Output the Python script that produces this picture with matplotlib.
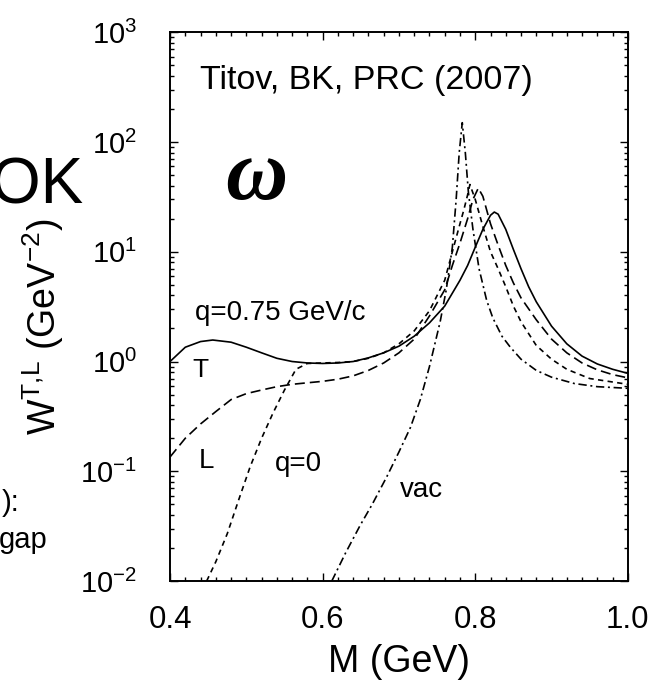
import numpy as np
import matplotlib
matplotlib.use("Agg")
import matplotlib.pyplot as plt
from matplotlib.ticker import LogLocator, MultipleLocator, NullFormatter

plt.rcParams['font.family'] = ['Liberation Sans', 'DejaVu Sans']
plt.rcParams['mathtext.fontset'] = 'custom'
plt.rcParams['mathtext.rm'] = 'Liberation Sans'
plt.rcParams['mathtext.it'] = 'Liberation Sans:italic'
plt.rcParams['mathtext.default'] = 'regular'

# transverse, q = 0.75 GeV/c (solid)
m_T = [0.40, 0.42, 0.44, 0.456, 0.48, 0.50, 0.52, 0.54, 0.56, 0.58, 0.60, 0.62,
       0.64, 0.66, 0.68, 0.70, 0.72, 0.74, 0.76, 0.78, 0.79, 0.80, 0.81, 0.82,
       0.825, 0.83, 0.84, 0.85, 0.86, 0.87, 0.88, 0.90, 0.92, 0.94, 0.96, 0.98, 1.00]
w_T = [1.00, 1.35, 1.52, 1.57, 1.50, 1.35, 1.20, 1.07, 1.00, 0.97, 0.96, 0.97,
       1.00, 1.08, 1.20, 1.38, 1.70, 2.25, 3.2, 5.5, 7.5, 11, 16, 21.5,
       23, 22, 16, 10.5, 7.0, 4.8, 3.5, 2.1, 1.45, 1.12, 0.95, 0.85, 0.78]

# longitudinal, q = 0.75 GeV/c (long dashes)
m_L = [0.40, 0.42, 0.44, 0.46, 0.48, 0.50, 0.52, 0.54, 0.56, 0.58, 0.60, 0.62,
       0.64, 0.66, 0.68, 0.70, 0.72, 0.74, 0.76, 0.77, 0.78, 0.79, 0.797, 0.804,
       0.81, 0.82, 0.83, 0.84, 0.85, 0.86, 0.88, 0.90, 0.92, 0.94, 0.96, 0.98, 1.00]
w_L = [0.135, 0.20, 0.27, 0.35, 0.45, 0.51, 0.55, 0.59, 0.62, 0.64, 0.66, 0.69,
       0.74, 0.83, 0.97, 1.2, 1.6, 2.6, 4.5, 7.5, 12, 20, 30, 38,
       32, 18, 11.5, 7.5, 5.2, 3.8, 2.4, 1.6, 1.2, 0.97, 0.84, 0.76, 0.71]

# q = 0 (short dashes)
m_q0 = [0.448, 0.46, 0.475, 0.49, 0.505, 0.52, 0.535, 0.55, 0.565, 0.58, 0.60, 0.62,
        0.64, 0.66, 0.68, 0.70, 0.72, 0.74, 0.76, 0.77, 0.78, 0.785, 0.79, 0.793,
        0.80, 0.81, 0.82, 0.83, 0.84, 0.85, 0.86, 0.88, 0.90, 0.92, 0.95, 1.00]
w_q0 = [0.010, 0.015, 0.027, 0.055, 0.11, 0.20, 0.34, 0.55, 0.85, 0.96, 0.97, 0.98,
        1.00, 1.07, 1.20, 1.45, 1.9, 2.9, 5.5, 10, 18, 24, 33, 41,
        30, 17, 10, 7.0, 4.8, 3.2, 2.3, 1.4, 1.05, 0.85, 0.70, 0.62]

# vacuum (dash-dot)
m_vac = [0.612, 0.63, 0.649, 0.665, 0.684, 0.70, 0.715, 0.728, 0.74, 0.754, 0.762,
         0.77, 0.775, 0.779, 0.783, 0.787, 0.791, 0.797, 0.805, 0.815, 0.823, 0.835,
         0.846, 0.86, 0.88, 0.90, 0.93, 0.96, 1.00]
w_vac = [0.010, 0.018, 0.032, 0.05, 0.089, 0.15, 0.25, 0.45, 0.9, 2.3, 4.5,
         11, 30, 80, 150, 80, 35, 16, 7.0, 3.6, 2.5, 1.7,
         1.35, 1.05, 0.83, 0.72, 0.63, 0.59, 0.57]

fig = plt.figure(figsize=(6.54, 6.86), dpi=100)
ax = fig.add_axes([0.26, 0.153, 0.70, 0.800])

lw = 1.2
ax.plot(m_T, w_T, color='black', lw=lw, ls='-')
ax.plot(m_L, w_L, color='black', lw=lw, ls=(0, (6, 3)))
ax.plot(m_q0, w_q0, color='black', lw=lw, ls=(0, (3.2, 2.6)))
ax.plot(m_vac, w_vac, color='black', lw=lw, ls=(0, (5, 2.2, 1.2, 2.2)))

ax.set_yscale('log')
ax.set_xlim(0.4, 1.0)
ax.set_ylim(1e-2, 1e3)

ax.xaxis.set_major_locator(MultipleLocator(0.2))
ax.xaxis.set_minor_locator(MultipleLocator(0.02))
ax.xaxis.set_major_formatter(matplotlib.ticker.FormatStrFormatter('%.1f'))
ax.yaxis.set_major_locator(LogLocator(base=10, numticks=10))
ax.yaxis.set_minor_locator(LogLocator(base=10, subs=np.arange(2, 10), numticks=20))
ax.yaxis.set_minor_formatter(NullFormatter())

ax.tick_params(which='both', direction='in', top=True, right=True, width=1.0, color='black')
ax.tick_params(which='major', length=6)
ax.tick_params(which='minor', length=3)
ax.tick_params(axis='x', which='major', labelsize=22.5, pad=17)
ax.tick_params(axis='y', which='major', labelsize=21, pad=24)
for sp in ax.spines.values():
    sp.set_linewidth(1.4)

ax.set_xlabel('M (GeV)', fontsize=27, labelpad=7)
fig.text(43 / 654, 1 - 327 / 686, r'W$^{T{,}L}$ (GeV$^{-2}$)', rotation=90,
         ha='center', va='center', fontsize=27)

ax.text(0.439, 303, 'Titov, BK, PRC (2007)', fontsize=24.5, ha='left', va='baseline')
ax.text(0.513, 46.8, '\u03c9', fontsize=62, ha='center', va='center',
        family=['Liberation Serif', 'DejaVu Serif'], style='italic', weight='bold')
ax.text(0.433, 2.38, 'q=0.75 GeV/c', fontsize=20, ha='left', va='baseline')
ax.text(0.429, 0.72, 'T', fontsize=19, ha='left', va='baseline')
ax.text(0.437, 0.107, 'L', fontsize=20, ha='left', va='baseline')
ax.text(0.538, 0.1005, 'q=0', fontsize=20, ha='left', va='baseline')
ax.text(0.701, 0.058, 'vac', fontsize=20, ha='left', va='baseline')

# fragments of neighbouring slide text
fig.text(83 / 654, 1 - 203 / 686, 'OK', fontsize=46, ha='right', va='baseline')
fig.text(20 / 654, 1 - 511 / 686, '):', fontsize=21, ha='right', va='baseline')
fig.text(48 / 654, 1 - 548 / 686, 'gap', fontsize=21, ha='right', va='baseline')

fig.savefig('out.png', dpi=100)
